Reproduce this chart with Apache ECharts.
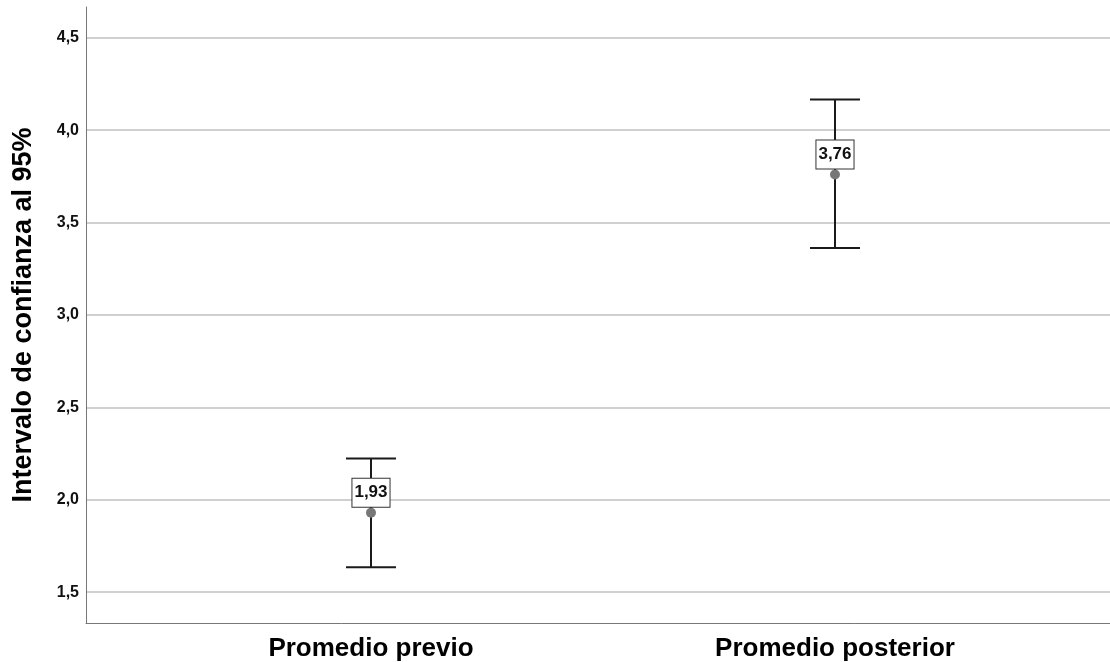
<!DOCTYPE html>
<html>
<head>
<meta charset="utf-8">
<title>Intervalo de confianza al 95%</title>
<script src="https://cdn.jsdelivr.net/npm/echarts@6/dist/echarts.min.js"></script>
<style>
  html, body { margin: 0; padding: 0; background: #ffffff; }
  #chart { width: 1110px; height: 662px; }
</style>
</head>
<body>
<div id="chart"></div>
<script>
// Means and 95% confidence limits per group
const categories = ['Promedio previo', 'Promedio posterior'];
const means = [1.93, 3.76];
const lowerCI = [1.635, 3.362];
const upperCI = [2.223, 4.166];
const yTicks = [1.5, 2.0, 2.5, 3.0, 3.5, 4.0, 4.5];

const fmt = v => v.toFixed(2).replace('.', ',');
const seriesData = categories.map((c, i) => [i, means[i], lowerCI[i], upperCI[i]]);

const chart = echarts.init(document.getElementById('chart'), null, { renderer: 'canvas' });

function renderErrorBar(params, api) {
  const x = api.value(0);
  const mean = api.value(1);
  const lo = api.value(2);
  const hi = api.value(3);
  const pMean = api.coord([x, mean]);
  const pLo = api.coord([x, lo]);
  const pHi = api.coord([x, hi]);
  const capHalf = 25;
  const lineStyle = { stroke: '#1a1a1a', lineWidth: 2 };
  return {
    type: 'group',
    children: [
      { type: 'line', shape: { x1: pLo[0], y1: pLo[1], x2: pHi[0], y2: pHi[1] }, style: lineStyle },
      { type: 'line', shape: { x1: pHi[0] - capHalf, y1: pHi[1], x2: pHi[0] + capHalf, y2: pHi[1] }, style: lineStyle },
      { type: 'line', shape: { x1: pLo[0] - capHalf, y1: pLo[1], x2: pLo[0] + capHalf, y2: pLo[1] }, style: lineStyle },
      { type: 'circle', shape: { cx: pMean[0], cy: pMean[1], r: 5 }, style: { fill: '#777777' } },
      {
        type: 'text',
        x: pMean[0],
        y: pMean[1] - 20,
        style: {
          text: fmt(mean),
          align: 'center',
          verticalAlign: 'middle',
          font: 'bold 17px "Liberation Sans", Arial, sans-serif',
          fill: '#111111',
          backgroundColor: '#ffffff',
          borderColor: '#333333',
          borderWidth: 1,
          padding: [6, 2, 5, 2]
        }
      }
    ]
  };
}

chart.setOption({
  animation: false,
  backgroundColor: '#ffffff',
  grid: { left: 86, right: 0, top: 7, bottom: 37, containLabel: false },
  xAxis: {
    type: 'value',
    min: -0.6142,
    max: 1.5927,
    axisLine: { show: true, onZero: false, lineStyle: { color: '#777777', width: 1 } },
    axisTick: { show: false },
    splitLine: { show: false },
    axisLabel: {
      customValues: [0, 1],
      formatter: v => categories[Math.round(v)],
      color: '#000000',
      fontFamily: '"Liberation Sans", Arial, sans-serif',
      fontWeight: 'bold',
      fontSize: 26,
      margin: 13
    }
  },
  yAxis: {
    type: 'value',
    min: 1.3333,
    max: 4.6667,
    name: 'Intervalo de confianza al 95%',
    nameLocation: 'middle',
    nameGap: 49,
    nameRotate: 90,
    nameTextStyle: {
      color: '#000000',
      fontFamily: '"Liberation Sans", Arial, sans-serif',
      fontWeight: 'bold',
      fontSize: 27
    },
    axisLine: { show: true, onZero: false, lineStyle: { color: '#777777', width: 1 } },
    axisTick: { show: false, customValues: yTicks },
    splitLine: { show: true, lineStyle: { color: '#d0d0d0', width: 2 } },
    axisLabel: {
      customValues: yTicks,
      formatter: v => v.toFixed(1).replace('.', ','),
      color: '#111111',
      fontFamily: '"Liberation Sans", Arial, sans-serif',
      fontWeight: 'bold',
      fontSize: 16,
      margin: 7
    }
  },
  series: [{
    type: 'custom',
    renderItem: renderErrorBar,
    encode: { x: 0, y: [1, 2, 3] },
    data: seriesData,
    z: 3
  }]
});
</script>
</body>
</html>
